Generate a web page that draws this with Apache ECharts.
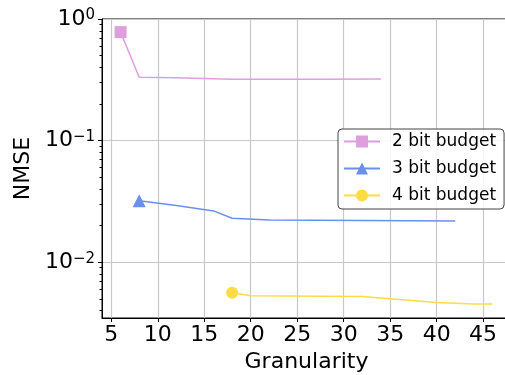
<!DOCTYPE html>
<html><head><meta charset="utf-8">
<script src="https://cdn.jsdelivr.net/npm/echarts@6/dist/echarts.min.js"></script>
<style>html,body{margin:0;padding:0;background:#fff}#c{width:505px;height:375px}</style>
</head><body><div id="c"></div>
<script>
const xTicks = [5,10,15,20,25,30,35,40,45];
const yMajorTicks = [0.01,0.1,1];
const yMinorTicks = [0.004,0.005,0.006,0.007,0.008,0.009,0.02,0.03,0.04,0.05,0.06,0.07,0.08,0.09,0.2,0.3,0.4,0.5,0.6,0.7,0.8,0.9];
const seriesNames = ['2 bit budget','3 bit budget','4 bit budget'];
const x2 = [6,8,12,16,18,20,24,28,34];
const y2 = [0.78,0.332,0.328,0.323,0.320,0.319,0.319,0.320,0.321];
const x3 = [8,12,16,18,22,42];
const y3 = [0.032,0.0293,0.0264,0.0230,0.0222,0.0218];
const x4 = [18,20,32,36,40,44,46];
const y4 = [0.00561,0.0053,0.00523,0.00493,0.00467,0.00452,0.00452];

const FONT = 'DejaVu Sans';
const colors = ['#dda0dd','#6a8fec','#ffdb45'];
const symbols = ['rect','triangle','circle'];
const symSizes = [12,13,12];

function build(xs, ys){
  return xs.map((x,i)=> i===0 ? {value:[x,ys[i]]} : {value:[x,ys[i]], symbol:'none'});
}
const datas = [build(x2,y2), build(x3,y3), build(x4,y4)];

const chart = echarts.init(document.getElementById('c'), null, {renderer:'canvas'});
chart.setOption({
  animation:false,
  backgroundColor:'#fff',
  textStyle:{fontFamily:FONT},
  grid:{left:102, top:19, width:409, height:299, show:true, borderColor:'#000', borderWidth:1, backgroundColor:'transparent', containLabel:false, outerBoundsMode:'none'},
  legend:{
    data:seriesNames, orient:'vertical', left:338, top:129,
    itemWidth:36, itemHeight:15, itemGap:10,
    padding:[4,8,5,5],
    borderColor:'#444', borderWidth:1, borderRadius:4, backgroundColor:'rgba(255,255,255,0.85)',
    textStyle:{fontSize:17, color:'#000', fontFamily:FONT, padding:[0,0,0,7]}
  },
  xAxis:[{
    type:'value', min:4, max:48,
    axisLine:{show:true, lineStyle:{color:'#000', width:1}},
    axisTick:{show:true, customValues:xTicks, length:4, lineStyle:{color:'#000'}},
    axisLabel:{customValues:xTicks, fontSize:22, color:'#000', margin:6, fontFamily:FONT},
    splitLine:{show:true, lineStyle:{color:'#c8c8c8', width:1.2}},
    name:'Granularity', nameLocation:'middle', nameGap:27,
    nameTextStyle:{fontSize:22, color:'#000', fontFamily:FONT}
  }],
  yAxis:[{
    type:'log', logBase:10, min:0.003475, max:1,
    axisLine:{show:true, lineStyle:{color:'#000', width:1}},
    axisTick:{show:true, customValues:yMajorTicks, length:4, lineStyle:{color:'#000'}},
    axisLabel:{customValues:yMajorTicks, color:'#000', margin:7,
      formatter:function(v){const e=Math.round(Math.log10(v));return '{b|10}{s|'+(e<0?'\u2212'+(-e):String(e))+'}';},
      rich:{
        b:{fontSize:22, lineHeight:22, verticalAlign:'bottom', fontFamily:FONT, color:'#000'},
        s:{fontSize:15, lineHeight:15, verticalAlign:'top', padding:[0,0,10,0], fontFamily:FONT, color:'#000'}
      }},
    splitLine:{show:true, lineStyle:{color:'#c8c8c8', width:1.2}},
    name:'NMSE', nameLocation:'middle', nameGap:62, nameRotate:90,
    nameTextStyle:{fontSize:22, color:'#000', fontFamily:FONT}
  },{
    type:'log', logBase:10, min:0.003475, max:1, position:'left',
    axisLine:{show:false},
    axisTick:{show:true, customValues:yMinorTicks, length:2.5, lineStyle:{color:'#000'}},
    axisLabel:{show:false},
    splitLine:{show:false}
  }],
  series: seriesNames.map((n,i)=>({
    name:n, type:'line', xAxisIndex:0, yAxisIndex:0,
    data:datas[i], symbol:symbols[i], symbolSize:symSizes[i],
    showSymbol:true, showAllSymbol:true,
    lineStyle:{color:colors[i], width:1.5},
    itemStyle:{color:colors[i]},
    emphasis:{disabled:true}
  }))
});
</script></body></html>
